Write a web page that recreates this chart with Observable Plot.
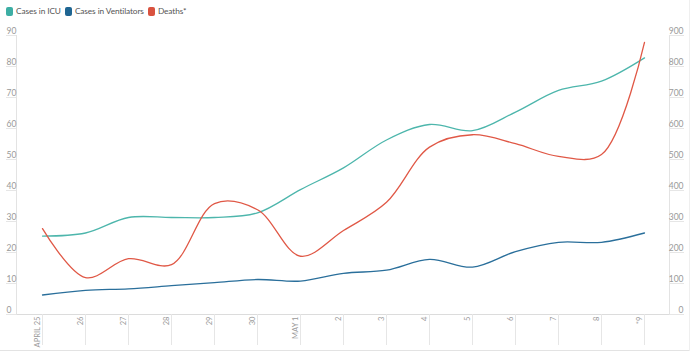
<!DOCTYPE html>
<html><head><meta charset="utf-8">
<script src="https://cdn.jsdelivr.net/npm/d3@7"></script>
<script src="https://cdn.jsdelivr.net/npm/@observablehq/plot@0.6"></script>
<style>
body{margin:0;background:#fff;font-family:Lato,sans-serif;}
#wrap{position:relative;width:691px;height:353px;overflow:hidden;}
#legend{height:22px;display:flex;align-items:center;padding-left:6px;font-size:8.3px;letter-spacing:-0.1px;color:#555;}
.item{display:flex;align-items:center;margin-right:4px;}
.sw{display:inline-block;width:7px;height:9px;border-radius:2px;margin-right:3px;}
#bline{position:absolute;left:0;top:350px;width:690px;height:1px;background:#e3e3e3;}
#rline{position:absolute;left:689px;top:0;width:1px;height:351px;background:#efefef;}
svg{display:block;}
</style></head>
<body>
<div id="wrap">
  <div id="legend"></div>
  <div id="chart"></div>
  <div id="bline"></div>
  <div id="rline"></div>
</div>
<script>
const days = ["APRIL 25","26","27","28","29","30","MAY 1","2","3","4","5","6","7","8","*9"];
const icu = [24, 25, 30, 30, 30, 31.5, 39, 46, 55, 60, 58, 64, 71, 74, 81.5];
const vent = [5, 6.5, 7, 8, 9, 10, 9.5, 12, 13, 16.5, 14, 19, 22, 22, 25];
const deaths = [264, 106, 167, 148, 345, 325, 175, 258, 349, 527, 567, 538, 497, 503, 865];
const leftTicks = [0,10,20,30,40,50,60,70,80,90];
const rightTicks = [0,100,200,300,400,500,600,700,800,900];
const seriesNames = ["Cases in ICU","Cases in Ventilators","Deaths*"];
const lineColors = ["#4db6ac","#2a6f9b","#e05846"];
const swatchColors = ["#3daea4","#1f6592","#d9523f"];

const legend = document.getElementById("legend");
seriesNames.forEach((n,i)=>{
  const it = document.createElement("span"); it.className="item";
  const sw = document.createElement("span"); sw.className="sw"; sw.style.background=swatchColors[i];
  it.appendChild(sw); it.appendChild(document.createTextNode(n));
  legend.appendChild(it);
});

const grid = "#e6e6e6";
const chart = Plot.plot({
  width: 691, height: 331,
  marginLeft: 16, marginRight: 22, marginTop: 13, marginBottom: 39,
  x: {type: "point", domain: days, padding: 0.5, axis: null},
  y: {domain: [0, 90], range: [288, 9], axis: null},
  style: {fontFamily: "Lato, sans-serif", fontSize: "8.5px", color: "#999", background: "#fff"},
  marks: [
    Plot.ruleY([0], {dy: 4, stroke: "#dcdcdc"}),
    Plot.axisY(leftTicks, {anchor: "left", tickSize: 10, tickFormat: () => "", dy: 4, stroke: grid}),
    Plot.axisY(leftTicks, {anchor: "right", tickSize: 14, tickFormat: () => "", dy: 4, stroke: grid}),
    Plot.frame({anchor: "left", stroke: "#e3e3e3"}),
    Plot.frame({anchor: "right", stroke: "#e3e3e3"}),
    Plot.axisX({anchor: "bottom", tickSize: 31, tickFormat: () => "", stroke: grid}),
    Plot.text(leftTicks, {y: d => d, text: d => String(d), frameAnchor: "left", textAnchor: "start", dx: -10, fill: "#999"}),
    Plot.text(rightTicks, {y: d => d / 10, text: d => String(d), frameAnchor: "right", textAnchor: "end", dx: 14, fill: "#999"}),
    Plot.text(days, {x: d => d, text: d => d, frameAnchor: "bottom", rotate: -90, textAnchor: "end", lineAnchor: "middle", dx: -4.5, dy: 2, fill: "#999", fontSize: 7.6}),
    Plot.line(days, {x: d => d, y: (d, i) => icu[i], curve: "catmull-rom", stroke: lineColors[0], strokeWidth: 1.3}),
    Plot.line(days, {x: d => d, y: (d, i) => vent[i], curve: "catmull-rom", stroke: lineColors[1], strokeWidth: 1.3}),
    Plot.line(days, {x: d => d, y: (d, i) => deaths[i] / 10, curve: "catmull-rom", stroke: lineColors[2], strokeWidth: 1.3})
  ]
});
document.getElementById("chart").appendChild(chart);
</script>
</body></html>
